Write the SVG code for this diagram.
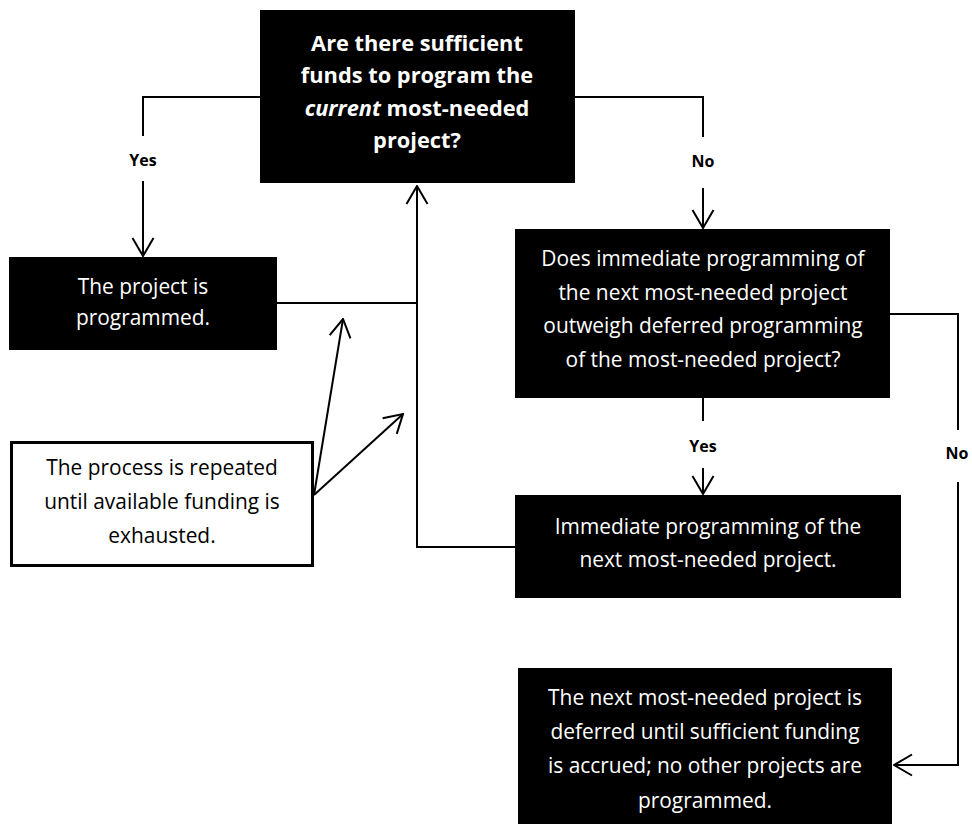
<svg xmlns="http://www.w3.org/2000/svg" width="972" height="824" viewBox="0 0 972 824">
<defs>
<marker id="arr" viewBox="0 0 20 24" refX="19" refY="12" markerWidth="20" markerHeight="24" markerUnits="userSpaceOnUse" orient="auto">
<path d="M1,1.5 L19,12 L1,22.5" fill="none" stroke="#000" stroke-width="2"/>
</marker>
<style>
.box{fill:#000}
.note{fill:#fff;stroke:#000;stroke-width:3}
.t{font-family:"Open Sans","Liberation Sans",sans-serif;font-size:20.9px;fill:#fff;text-anchor:middle}
.b{font-weight:bold;font-size:21.8px}
.k{fill:#000}
.lbl{font-family:"Open Sans","Liberation Sans",sans-serif;font-size:16px;font-weight:bold;fill:#000;text-anchor:middle}
.c{fill:none;stroke:#000;stroke-width:2}
</style>
</defs>
<rect width="972" height="824" fill="#fff"/>
<g id="connectors">
<polyline class="c" points="260,97 143,97 143,136"/>
<line class="c" x1="143" y1="181" x2="143" y2="256" marker-end="url(#arr)"/>
<polyline class="c" points="575,97 703,97 703,137"/>
<line class="c" x1="703" y1="188" x2="703" y2="228" marker-end="url(#arr)"/>
<line class="c" x1="703" y1="398" x2="703" y2="421"/>
<line class="c" x1="703" y1="468" x2="703" y2="494" marker-end="url(#arr)"/>
<polyline class="c" points="890,314 958,314 958,430"/>
<polyline class="c" points="958,482 958,765 894,765" marker-end="url(#arr)"/>
<line class="c" x1="277" y1="303" x2="417" y2="303"/>
<polyline class="c" points="515,547 417,547 417,186" marker-end="url(#arr)"/>
<line class="c" x1="314" y1="495" x2="343" y2="319" marker-end="url(#arr)"/>
<line class="c" x1="314" y1="495" x2="403" y2="414" marker-end="url(#arr)"/>
<text class="lbl" x="143" y="166">Yes</text>
<text class="lbl" x="703" y="167">No</text>
<text class="lbl" x="703" y="452">Yes</text>
<text class="lbl" x="957" y="459">No</text>
</g>
<g id="q1">
<rect class="box" x="260" y="10" width="315" height="173"/>
<text class="t b" x="417" y="51">Are there sufficient</text>
<text class="t b" x="417" y="83">funds to program the</text>
<text class="t b" x="417" y="116"><tspan font-style="italic">current</tspan> most-needed</text>
<text class="t b" x="417" y="148">project?</text>
</g>
<g id="programmed">
<rect class="box" x="9" y="257" width="268" height="93"/>
<text class="t" x="143" y="294">The project is</text>
<text class="t" x="143" y="325">programmed.</text>
</g>
<g id="note">
<rect class="note" x="11.5" y="442.5" width="301" height="123"/>
<text class="t k" x="162" y="475">The process is repeated</text>
<text class="t k" x="162" y="509">until available funding is</text>
<text class="t k" x="162" y="543">exhausted.</text>
</g>
<g id="q2">
<rect class="box" x="515" y="229" width="375" height="169"/>
<text class="t" x="703" y="266">Does immediate programming of</text>
<text class="t" x="703" y="300">the next most-needed project</text>
<text class="t" x="703" y="333">outweigh deferred programming</text>
<text class="t" x="703" y="367">of the most-needed project?</text>
</g>
<g id="immediate">
<rect class="box" x="515" y="495" width="386" height="103"/>
<text class="t" x="708" y="534">Immediate programming of the</text>
<text class="t" x="708" y="567">next most-needed project.</text>
</g>
<g id="deferred">
<rect class="box" x="518" y="668" width="374" height="156"/>
<text class="t" x="705" y="705">The next most-needed project is</text>
<text class="t" x="705" y="739">deferred until sufficient funding</text>
<text class="t" x="705" y="773">is accrued; no other projects are</text>
<text class="t" x="705" y="808">programmed.</text>
</g>
</svg>
